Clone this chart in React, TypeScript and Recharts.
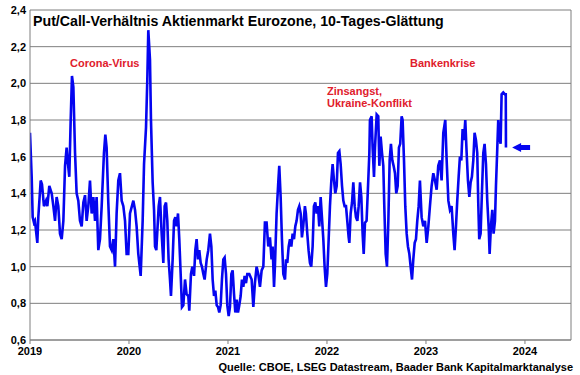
import React from 'react';
import { LineChart, Line, XAxis, YAxis, CartesianGrid, ReferenceLine, ReferenceDot } from 'recharts';

const years: number[] = [
  2019.000, 2019.017, 2019.027, 2019.040, 2019.050, 2019.074, 2019.084, 2019.108, 2019.121, 2019.141,
  2019.162, 2019.175, 2019.195, 2019.219, 2019.236, 2019.253, 2019.269, 2019.286, 2019.303, 2019.320,
  2019.337, 2019.354, 2019.370, 2019.380, 2019.397, 2019.411, 2019.424, 2019.438, 2019.455, 2019.471,
  2019.488, 2019.505, 2019.522, 2019.539, 2019.556, 2019.572, 2019.589, 2019.606, 2019.623, 2019.640,
  2019.657, 2019.673, 2019.690, 2019.707, 2019.724, 2019.747, 2019.761, 2019.774, 2019.791, 2019.808,
  2019.825, 2019.842, 2019.859, 2019.875, 2019.892, 2019.909, 2019.926, 2019.943, 2019.960, 2019.976,
  2019.993, 2020.010, 2020.044, 2020.061, 2020.077, 2020.094, 2020.118, 2020.138, 2020.152, 2020.172,
  2020.185, 2020.195, 2020.212, 2020.222, 2020.239, 2020.253, 2020.263, 2020.276, 2020.300, 2020.313,
  2020.330, 2020.347, 2020.360, 2020.374, 2020.387, 2020.400, 2020.414, 2020.424, 2020.441, 2020.455,
  2020.468, 2020.481, 2020.495, 2020.508, 2020.522, 2020.535, 2020.549, 2020.566, 2020.582, 2020.599,
  2020.609, 2020.626, 2020.640, 2020.657, 2020.670, 2020.683, 2020.697, 2020.710, 2020.724, 2020.737,
  2020.751, 2020.764, 2020.785, 2020.801, 2020.818, 2020.832, 2020.845, 2020.859, 2020.872, 2020.886,
  2020.899, 2020.912, 2020.926, 2020.939, 2020.953, 2020.966, 2020.980, 2020.993, 2021.007, 2021.020,
  2021.034, 2021.047, 2021.061, 2021.074, 2021.087, 2021.101, 2021.114, 2021.128, 2021.141, 2021.155,
  2021.168, 2021.182, 2021.195, 2021.215, 2021.239, 2021.256, 2021.272, 2021.289, 2021.306, 2021.323,
  2021.340, 2021.357, 2021.373, 2021.390, 2021.407, 2021.424, 2021.440, 2021.451, 2021.465, 2021.474,
  2021.491, 2021.508, 2021.518, 2021.532, 2021.545, 2021.559, 2021.576, 2021.586, 2021.599, 2021.613,
  2021.626, 2021.640, 2021.653, 2021.667, 2021.680, 2021.693, 2021.707, 2021.720, 2021.734, 2021.747,
  2021.760, 2021.777, 2021.787, 2021.801, 2021.814, 2021.828, 2021.841, 2021.855, 2021.868, 2021.882,
  2021.895, 2021.909, 2021.922, 2021.936, 2021.949, 2021.963, 2021.976, 2021.990, 2022.003, 2022.017,
  2022.030, 2022.044, 2022.057, 2022.071, 2022.084, 2022.098, 2022.111, 2022.125, 2022.138, 2022.152,
  2022.165, 2022.178, 2022.192, 2022.205, 2022.219, 2022.226, 2022.239, 2022.253, 2022.266, 2022.280,
  2022.293, 2022.307, 2022.320, 2022.334, 2022.347, 2022.360, 2022.371, 2022.384, 2022.400, 2022.417,
  2022.428, 2022.434, 2022.451, 2022.461, 2022.475, 2022.485, 2022.502, 2022.518, 2022.529, 2022.542,
  2022.556, 2022.569, 2022.579, 2022.593, 2022.606, 2022.620, 2022.633, 2022.646, 2022.660, 2022.673,
  2022.687, 2022.700, 2022.714, 2022.727, 2022.740, 2022.754, 2022.764, 2022.778, 2022.791, 2022.805,
  2022.818, 2022.832, 2022.845, 2022.859, 2022.872, 2022.886, 2022.899, 2022.912, 2022.926, 2022.939,
  2022.956, 2022.973, 2022.990, 2023.007, 2023.024, 2023.040, 2023.057, 2023.074, 2023.091, 2023.108,
  2023.124, 2023.141, 2023.158, 2023.175, 2023.195, 2023.209, 2023.226, 2023.242, 2023.259, 2023.276,
  2023.289, 2023.303, 2023.316, 2023.330, 2023.343, 2023.357, 2023.370, 2023.384, 2023.397, 2023.411,
  2023.424, 2023.438, 2023.451, 2023.464, 2023.478, 2023.491, 2023.505, 2023.518, 2023.528, 2023.538,
  2023.552, 2023.565, 2023.579, 2023.592, 2023.606, 2023.619, 2023.633, 2023.643, 2023.656, 2023.670,
  2023.683, 2023.697, 2023.707, 2023.720, 2023.730, 2023.740, 2023.754, 2023.764, 2023.781, 2023.798,
  2023.806, 2023.808,
];

const ratio: number[] = [
  1.73, 1.49, 1.27, 1.24, 1.25, 1.13, 1.27, 1.47, 1.45, 1.33,
  1.36, 1.33, 1.44, 1.40, 1.33, 1.25, 1.38, 1.33, 1.18, 1.15,
  1.25, 1.55, 1.65, 1.58, 1.49, 1.80, 2.04, 1.98, 1.62, 1.40,
  1.36, 1.25, 1.22, 1.35, 1.39, 1.25, 1.33, 1.47, 1.29, 1.38,
  1.25, 1.38, 1.09, 1.15, 1.33, 1.62, 1.72, 1.65, 1.35, 1.11,
  1.09, 1.15, 1.00, 1.29, 1.47, 1.51, 1.36, 1.33, 1.25, 1.07,
  1.07, 1.29, 1.36, 1.31, 1.22, 1.07, 0.95, 1.25, 1.56, 1.76,
  2.02, 2.29, 2.13, 1.80, 1.46, 1.31, 1.11, 1.09, 1.33, 1.38,
  1.18, 1.02, 1.33, 1.35, 1.25, 1.04, 0.93, 0.84, 1.04, 1.25,
  1.27, 1.22, 1.29, 1.15, 0.96, 0.78, 0.79, 0.93, 0.85, 0.84,
  0.76, 0.96, 1.00, 0.95, 1.09, 1.15, 1.04, 1.09, 1.02, 1.00,
  0.96, 0.93, 1.04, 1.09, 1.18, 1.11, 0.93, 0.84, 0.87, 0.79,
  0.78, 0.75, 0.79, 0.93, 1.04, 1.05, 0.96, 0.79, 0.73, 0.78,
  0.96, 0.98, 0.85, 0.75, 0.82, 0.75, 0.79, 0.84, 0.93, 0.89,
  0.95, 0.91, 0.96, 0.96, 0.93, 0.78, 0.91, 1.00, 0.96, 0.89,
  0.98, 1.00, 1.24, 1.24, 1.11, 1.16, 1.04, 1.11, 0.89, 1.00,
  1.29, 1.46, 1.55, 1.38, 1.15, 0.96, 0.93, 1.04, 1.02, 1.11,
  1.15, 1.11, 1.18, 1.15, 1.22, 1.25, 1.31, 1.33, 1.29, 1.16,
  1.22, 1.33, 1.29, 1.18, 1.09, 1.02, 1.00, 1.11, 1.33, 1.35,
  1.29, 1.33, 1.22, 1.38, 1.27, 1.15, 1.00, 0.89, 0.96, 1.15,
  1.33, 1.47, 1.56, 1.47, 1.40, 1.44, 1.62, 1.63, 1.56, 1.44,
  1.36, 1.33, 1.33, 1.25, 1.16, 1.13, 1.29, 1.35, 1.46, 1.33,
  1.27, 1.25, 1.33, 1.46, 1.38, 1.18, 1.07, 1.24, 1.25, 1.47,
  1.62, 1.80, 1.82, 1.65, 1.49, 1.65, 1.83, 1.82, 1.55, 1.71,
  1.62, 1.55, 1.33, 1.07, 1.00, 1.25, 1.58, 1.67, 1.58, 1.55,
  1.51, 1.40, 1.44, 1.65, 1.67, 1.82, 1.80, 1.58, 1.33, 1.18,
  1.11, 1.07, 1.00, 0.93, 1.04, 1.13, 1.15, 1.25, 1.33, 1.47,
  1.27, 1.22, 1.25, 1.13, 1.22, 1.33, 1.44, 1.51, 1.47, 1.42,
  1.55, 1.58, 1.47, 1.73, 1.80, 1.58, 1.36, 1.31, 1.33, 1.18,
  1.09, 1.22, 1.36, 1.49, 1.60, 1.58, 1.75, 1.69, 1.80, 1.62,
  1.47, 1.38, 1.46, 1.49, 1.58, 1.73, 1.69, 1.62, 1.35, 1.15,
  1.18, 1.40, 1.62, 1.67, 1.56, 1.36, 1.22, 1.07, 1.22, 1.31,
  1.18, 1.25, 1.44, 1.64, 1.80, 1.71, 1.67, 1.94, 1.95, 1.94,
  1.94, 1.65,
];

const xTicks: number[] = [2019, 2020, 2021, 2022, 2023, 2024];
const yTicks: number[] = [0.6, 0.8, 1.0, 1.2, 1.4, 1.6, 1.8, 2.0, 2.2, 2.4];
const xDomain: [number, number] = [2019, 2024.465];
const yDomain: [number, number] = [0.6, 2.4];
const arrowAt: number = 2023.87;

const titleText = 'Put/Call-Verhältnis Aktienmarkt Eurozone, 10-Tages-Glättung';
const sourceText = 'Quelle: CBOE, LSEG Datastream, Baader Bank Kapitalmarktanalyse';
const notes = {
  corona: 'Corona-Virus',
  zins1: 'Zinsangst,',
  zins2: 'Ukraine-Konflikt',
  banken: 'Bankenkrise',
};

const data = years.map((t, i) => ({ t, v: ratio[i] }));
const lastValue = ratio[ratio.length - 1];

const FONT = '"Liberation Sans", Arial, sans-serif';
const BLUE = '#0505f0';
const RED = '#e0202c';
const GRID = '#7f7f7f';

const Arrow = (props: any) => {
  const { cx, cy } = props;
  if (cx == null || cy == null) return null;
  const d = `M ${cx} ${cy} L ${cx + 9} ${cy - 4.5} L ${cx + 9} ${cy - 2.5} L ${cx + 18} ${cy - 2.5} L ${cx + 18} ${cy + 2.5} L ${cx + 9} ${cy + 2.5} L ${cx + 9} ${cy + 4.5} Z`;
  return <path d={d} fill={BLUE} stroke="none" />;
};

export default function App() {
  return (
    <div style={{ position: 'absolute', left: 0, top: 0, width: 580, height: 375, background: '#fff' }}>
      <LineChart
        width={580}
        height={375}
        data={data}
        margin={{ top: 10, right: 9, bottom: 0, left: 0 }}
      >
        <CartesianGrid horizontal vertical={false} stroke={GRID} strokeWidth={1} />
        <XAxis
          type="number"
          dataKey="t"
          domain={xDomain}
          ticks={xTicks}
          allowDataOverflow
          height={35}
          tickSize={4}
          tickMargin={3}
          stroke={GRID}
          tick={{ fill: '#000', fontSize: 11, fontWeight: 700, fontFamily: FONT }}
          tickFormatter={(v: number) => String(v)}
        />
        <YAxis
          type="number"
          domain={yDomain}
          ticks={yTicks}
          width={30}
          tickLine={false}
          tickSize={4}
          tickMargin={0}
          stroke={GRID}
          tick={{ fill: '#000', fontSize: 11, fontWeight: 700, fontFamily: FONT }}
          tickFormatter={(v: number) => v.toFixed(1).replace('.', ',')}
        />
        <ReferenceLine x={xDomain[1]} stroke={GRID} strokeWidth={1} />
        <Line
          type="linear"
          dataKey="v"
          stroke={BLUE}
          strokeWidth={2.6}
          dot={false}
          isAnimationActive={false}
        />
        <ReferenceDot x={arrowAt} y={lastValue} r={0} shape={Arrow} />
      </LineChart>
      <svg
        width={580}
        height={375}
        style={{ position: 'absolute', left: 0, top: 0, pointerEvents: 'none' }}
      >
        <text x={33} y={26} fontFamily={FONT} fontWeight={700} fontSize={14.2} fill="#000">{titleText}</text>
        <text x={70} y={67} fontFamily={FONT} fontWeight={700} fontSize={11} fill={RED}>{notes.corona}</text>
        <text x={327} y={94.5} fontFamily={FONT} fontWeight={700} fontSize={11} fill={RED}>{notes.zins1}</text>
        <text x={327} y={107} fontFamily={FONT} fontWeight={700} fontSize={11} fill={RED}>{notes.zins2}</text>
        <text x={410} y={66.5} fontFamily={FONT} fontWeight={700} fontSize={11} fill={RED}>{notes.banken}</text>
        <text x={573} y={371} textAnchor="end" fontFamily={FONT} fontWeight={700} fontSize={11} fill="#000">{sourceText}</text>
      </svg>
    </div>
  );
}
